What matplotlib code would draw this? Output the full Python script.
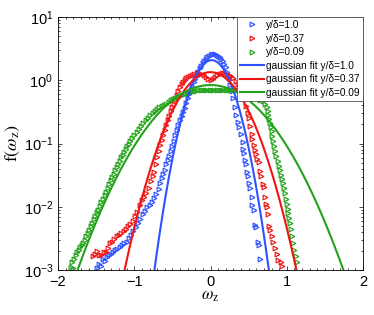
import numpy as np
import matplotlib
matplotlib.use("Agg")
import matplotlib.pyplot as plt
from matplotlib.ticker import LogLocator, MultipleLocator, NullFormatter

# ---- data (x = omega_z, values = log10 f) ----
blue_x = [-1.49, -1.46, -1.44, -1.41, -1.38, -1.36, -1.33, -1.30, -1.28, -1.25,
          -1.22, -1.19, -1.16, -1.13, -1.10, -1.07, -1.04, -1.01, -0.98, -0.95,
          -0.92, -0.89, -0.86, -0.83, -0.80, -0.77, -0.74, -0.71, -0.68, -0.66,
          -0.64, -0.62, -0.60, -0.58, -0.56, -0.54, -0.52, -0.50, -0.48, -0.46,
          -0.44, -0.42, -0.40, -0.38, -0.36, -0.34, -0.32, -0.30, -0.28, -0.26,
          -0.24, -0.22, -0.20, -0.18, -0.16, -0.14, -0.12, -0.10, -0.08, -0.06,
          -0.04, -0.02, 0.00, 0.02, 0.04, 0.06, 0.08, 0.10, 0.12, 0.14,
          0.16, 0.18, 0.20, 0.22, 0.24, 0.26, 0.28, 0.30, 0.32, 0.34,
          0.36, 0.38, 0.40, 0.42, 0.43, 0.44, 0.45, 0.46, 0.475, 0.49,
          0.51, 0.52, 0.54, 0.55, 0.565, 0.58, 0.595, 0.62, 0.63, 0.655]
blue_log = [-2.97, -2.90, -2.93, -2.83, -2.86, -2.80, -2.76, -2.74, -2.72, -2.69,
            -2.67, -2.64, -2.60, -2.58, -2.55, -2.49, -2.44, -2.39, -2.32, -2.26,
            -2.20, -2.12, -2.06, -2.01, -1.97, -1.92, -1.86, -1.80, -1.72, -1.62,
            -1.55, -1.48, -1.42, -1.33, -1.26, -1.20, -1.12, -1.04, -0.96, -0.87,
            -0.79, -0.71, -0.63, -0.57, -0.50, -0.44, -0.36, -0.28, -0.22, -0.16,
            -0.09, -0.03, 0.02, 0.07, 0.13, 0.19, 0.23, 0.27, 0.30, 0.33,
            0.36, 0.38, 0.40, 0.41, 0.415, 0.41, 0.40, 0.385, 0.37, 0.34,
            0.30, 0.26, 0.21, 0.13, 0.03, -0.08, -0.17, -0.28, -0.42, -0.55,
            -0.66, -0.74, -0.85, -0.98, -1.08, -1.15, -1.26, -1.32, -1.45, -1.52,
            -1.63, -1.70, -1.84, -1.97, -2.05, -2.29, -2.32, -2.55, -2.60, -2.82]

red_x = [-1.54, -1.51, -1.49, -1.46, -1.43, -1.40, -1.37, -1.34, -1.32, -1.29,
         -1.26, -1.23, -1.20, -1.17, -1.14, -1.11, -1.08, -1.05, -1.02, -0.99,
         -0.96, -0.93, -0.90, -0.87, -0.84, -0.81, -0.78, -0.76, -0.74, -0.72,
         -0.70, -0.68, -0.66, -0.64, -0.62, -0.60, -0.58, -0.56, -0.54, -0.52,
         -0.50, -0.48, -0.46, -0.44, -0.42, -0.40, -0.38, -0.36, -0.34, -0.32,
         -0.30, -0.27, -0.24, -0.21, -0.18, -0.15, -0.12, -0.09, -0.06, -0.03,
         0.00, 0.03, 0.06, 0.09, 0.12, 0.15, 0.18, 0.21, 0.24, 0.27,
         0.30, 0.33, 0.36, 0.39, 0.42, 0.45, 0.47, 0.49, 0.50, 0.52,
         0.54, 0.55, 0.57, 0.585, 0.60, 0.615, 0.63, 0.645, 0.66, 0.69,
         0.70, 0.715, 0.73, 0.74, 0.755, 0.77, 0.78, 0.80, 0.82, 0.845,
         0.87, 0.89, 0.92, 0.94]
red_log = [-2.78, -2.74, -2.70, -2.76, -2.77, -2.72, -2.71, -2.66, -2.58, -2.55,
           -2.51, -2.47, -2.44, -2.42, -2.39, -2.35, -2.31, -2.28, -2.22, -2.15,
           -2.08, -1.97, -1.90, -1.84, -1.79, -1.71, -1.60, -1.52, -1.45, -1.33,
           -1.21, -1.12, -1.03, -0.95, -0.87, -0.79, -0.71, -0.63, -0.56, -0.49,
           -0.43, -0.38, -0.31, -0.24, -0.17, -0.10, -0.06, -0.02, 0.01, 0.03,
           0.05, 0.07, 0.08, 0.10, 0.11, 0.11, 0.10, 0.08, 0.05, 0.02,
           0.005, 0.02, 0.05, 0.08, 0.10, 0.11, 0.11, 0.10, 0.08, 0.06,
           0.03, -0.01, -0.06, -0.13, -0.21, -0.30, -0.40, -0.52, -0.60, -0.72,
           -0.85, -0.93, -1.02, -1.10, -1.17, -1.24, -1.30, -1.44, -1.52, -1.64,
           -1.68, -1.84, -1.95, -2.00, -2.12, -2.30, -2.37, -2.47, -2.55, -2.66,
           -2.75, -2.84, -2.88, -2.93]

green_x = [-1.83, -1.81, -1.80, -1.79, -1.77, -1.75, -1.73, -1.71, -1.69, -1.67,
           -1.65, -1.63, -1.61, -1.59, -1.57, -1.55, -1.53, -1.51, -1.49, -1.47,
           -1.45, -1.43, -1.41, -1.39, -1.37, -1.35, -1.33, -1.31, -1.29, -1.27,
           -1.25, -1.23, -1.21, -1.19, -1.17, -1.15, -1.13, -1.11, -1.09, -1.07,
           -1.05, -1.03, -1.00, -0.97, -0.94, -0.91, -0.88, -0.85, -0.82, -0.79,
           -0.76, -0.73, -0.70, -0.67, -0.64, -0.61, -0.58, -0.55, -0.52, -0.49,
           -0.46, -0.43, -0.40, -0.37, -0.34, -0.31, -0.28, -0.25, -0.22, -0.19,
           -0.16, -0.13, -0.10, -0.07, -0.04, -0.01, 0.02, 0.05, 0.08, 0.11,
           0.14, 0.17, 0.20, 0.23, 0.26, 0.29, 0.32, 0.35, 0.40, 0.45,
           0.50, 0.55, 0.60, 0.65, 0.69, 0.72, 0.74, 0.75, 0.76, 0.77,
           0.78, 0.79, 0.80, 0.81, 0.82, 0.835, 0.85, 0.865, 0.88, 0.895,
           0.91, 0.925, 0.94, 0.955, 0.965, 0.975, 0.99, 1.00, 1.01, 1.02,
           1.03, 1.045, 1.055, 1.065, 1.08, 1.10, 1.12, 1.13]
green_log = [-2.95, -2.88, -2.97, -2.82, -2.76, -2.72, -2.68, -2.64, -2.60, -2.58,
             -2.52, -2.47, -2.41, -2.36, -2.31, -2.25, -2.20, -2.14, -2.09, -2.05,
             -1.99, -1.92, -1.87, -1.81, -1.76, -1.71, -1.64, -1.58, -1.53, -1.48,
             -1.42, -1.37, -1.33, -1.28, -1.22, -1.18, -1.13, -1.08, -1.04, -1.00,
             -0.96, -0.92, -0.87, -0.82, -0.77, -0.72, -0.67, -0.63, -0.59, -0.55,
             -0.52, -0.49, -0.46, -0.43, -0.41, -0.39, -0.37, -0.34, -0.32, -0.30,
             -0.28, -0.27, -0.25, -0.23, -0.21, -0.20, -0.19, -0.18, -0.17, -0.17,
             -0.16, -0.16, -0.155, -0.15, -0.15, -0.15, -0.15, -0.15, -0.155, -0.155,
             -0.155, -0.155, -0.15, -0.15, -0.15, -0.15, -0.155, -0.16, -0.17, -0.19,
             -0.21, -0.24, -0.28, -0.31, -0.33, -0.37, -0.42, -0.49, -0.55, -0.62,
             -0.68, -0.74, -0.81, -0.88, -0.96, -1.04, -1.12, -1.20, -1.28, -1.36,
             -1.42, -1.50, -1.56, -1.63, -1.71, -1.79, -1.87, -1.95, -2.03, -2.10,
             -2.18, -2.26, -2.35, -2.47, -2.58, -2.68, -2.78, -2.88]

# gaussian fit parameters (mean, sigma)
fit_mean = [0.015, 0.0, 0.0]
fit_sigma = [0.192, 0.297, 0.475]

labels_data = ['y/δ=1.0', 'y/δ=0.37', 'y/δ=0.09']
labels_fit = ['gaussian fit y/δ=1.0', 'gaussian fit y/δ=0.37', 'gaussian fit y/δ=0.09']
colors = ['#2f52ff', '#f01414', '#22a31a']

plt.rcParams['font.family'] = ['Liberation Sans', 'DejaVu Sans']
plt.rcParams['mathtext.fontset'] = 'stix'

fig = plt.figure(figsize=(3.74, 3.15), dpi=100)
ax = fig.add_axes([58/374, 45/315, 305/374, 253/315])

series = [(blue_x, blue_log), (red_x, red_log), (green_x, green_log)]
handles = []
for (xs, lg), c, lab in zip(series, colors, labels_data):
    ys = 10.0 ** np.asarray(lg)
    h, = ax.plot(xs, ys, linestyle='none', marker='>', markersize=3.4,
                 markerfacecolor='none', markeredgecolor=c, markeredgewidth=0.85, label=lab)
    handles.append(h)

xx = np.linspace(-2, 2, 801)
for m, s, c, lab in zip(fit_mean, fit_sigma, colors, labels_fit):
    g = np.exp(-(xx - m) ** 2 / (2 * s ** 2)) / (s * np.sqrt(2 * np.pi))
    h, = ax.plot(xx, g, color=c, lw=1.5, label=lab)
    handles.append(h)

ax.set_yscale('log')
ax.set_xlim(-2, 2)
ax.set_ylim(1e-3, 1e1)
ax.xaxis.set_major_locator(MultipleLocator(1))
ax.xaxis.set_minor_locator(MultipleLocator(0.1))
ax.yaxis.set_major_locator(LogLocator(base=10, numticks=10))
ax.yaxis.set_minor_locator(LogLocator(base=10, subs=np.arange(2, 10), numticks=20))
ax.yaxis.set_minor_formatter(NullFormatter())
ax.tick_params(which='both', direction='in', top=True, right=True, labelsize=10.5, width=0.5)
ax.tick_params(which='major', length=3)
ax.tick_params(which='minor', length=1.6)
for sp in ax.spines.values():
    sp.set_linewidth(0.6)

ax.set_xlabel(r'$\omega_\mathrm{z}$', fontsize=12, labelpad=0)
ax.set_ylabel(r'$\mathrm{f}(\omega_\mathrm{z})$', fontsize=13, labelpad=1)

leg = ax.legend(handles=handles, loc='upper right', fontsize=7.3, numpoints=1,
                frameon=True, fancybox=False, framealpha=1, edgecolor='#555555',
                borderaxespad=0, handlelength=2.4, handletextpad=0.2,
                labelspacing=0.35, borderpad=0.3)
leg.get_frame().set_linewidth(0.6)
leg.set_zorder(5)

fig.savefig('out.png', dpi=100)
